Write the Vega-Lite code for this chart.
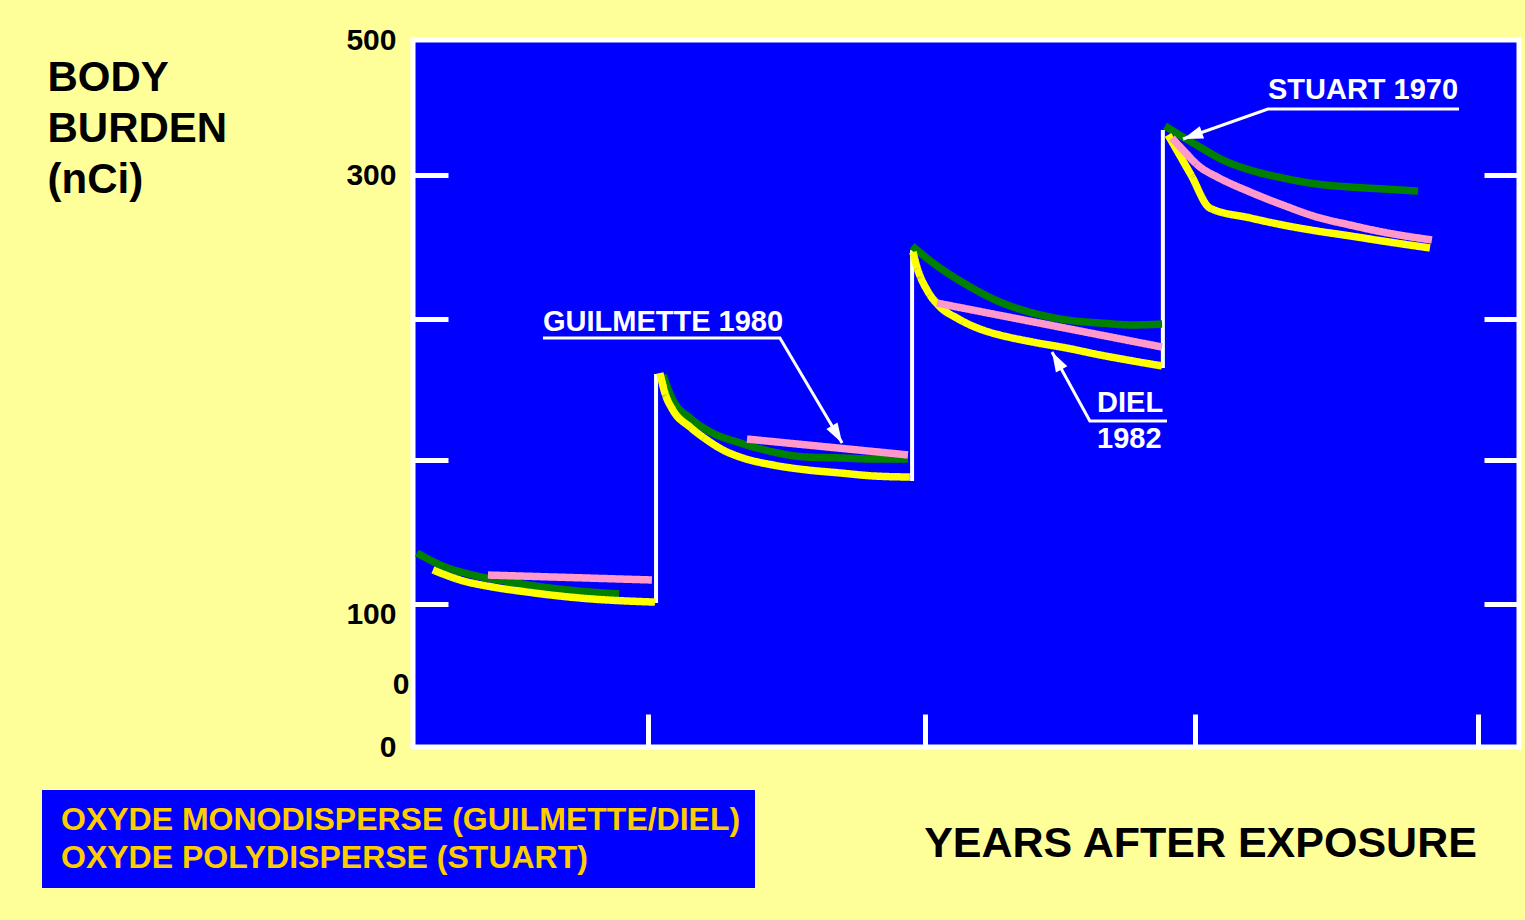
{
  "$schema": "https://vega.github.io/schema/vega-lite/v6.json",
  "width": 1106,
  "height": 707,
  "autosize": {"type": "none"},
  "padding": {"left": 413, "top": 40, "right": 6, "bottom": 173},
  "background": "#FFFF99",
  "config": {
    "font": "Liberation Sans",
    "view": {"fill": "#0000FF", "stroke": "#FFFFFF", "strokeWidth": 5}
  },
  "datasets": {
    "curves": [
      {"study": "STUART", "oxyde": "OXYDE POLYDISPERSE (STUART)", "seg": "S1", "x": 0.164, "y": 123.8},
      {"study": "STUART", "oxyde": "OXYDE POLYDISPERSE (STUART)", "seg": "S1", "x": 0.258, "y": 117.7},
      {"study": "STUART", "oxyde": "OXYDE POLYDISPERSE (STUART)", "seg": "S1", "x": 0.381, "y": 113.1},
      {"study": "STUART", "oxyde": "OXYDE POLYDISPERSE (STUART)", "seg": "S1", "x": 0.501, "y": 110.3},
      {"study": "STUART", "oxyde": "OXYDE POLYDISPERSE (STUART)", "seg": "S1", "x": 0.620, "y": 107.9},
      {"study": "STUART", "oxyde": "OXYDE POLYDISPERSE (STUART)", "seg": "S1", "x": 0.743, "y": 106.1},
      {"study": "STUART", "oxyde": "OXYDE POLYDISPERSE (STUART)", "seg": "S1", "x": 0.895, "y": 104.7},
      {"study": "STUART", "oxyde": "OXYDE POLYDISPERSE (STUART)", "seg": "S2", "x": 1.054, "y": 206.8},
      {"study": "STUART", "oxyde": "OXYDE POLYDISPERSE (STUART)", "seg": "S2", "x": 1.090, "y": 195.1},
      {"study": "STUART", "oxyde": "OXYDE POLYDISPERSE (STUART)", "seg": "S2", "x": 1.152, "y": 186.7},
      {"study": "STUART", "oxyde": "OXYDE POLYDISPERSE (STUART)", "seg": "S2", "x": 1.213, "y": 181.1},
      {"study": "STUART", "oxyde": "OXYDE POLYDISPERSE (STUART)", "seg": "S2", "x": 1.333, "y": 175.1},
      {"study": "STUART", "oxyde": "OXYDE POLYDISPERSE (STUART)", "seg": "S2", "x": 1.452, "y": 170.9},
      {"study": "STUART", "oxyde": "OXYDE POLYDISPERSE (STUART)", "seg": "S2", "x": 1.575, "y": 168.5},
      {"study": "STUART", "oxyde": "OXYDE POLYDISPERSE (STUART)", "seg": "S2", "x": 1.694, "y": 168.1},
      {"study": "STUART", "oxyde": "OXYDE POLYDISPERSE (STUART)", "seg": "S2", "x": 1.814, "y": 167.6},
      {"study": "STUART", "oxyde": "OXYDE POLYDISPERSE (STUART)", "seg": "S2", "x": 1.940, "y": 167.6},
      {"study": "STUART", "oxyde": "OXYDE POLYDISPERSE (STUART)", "seg": "S3", "x": 1.955, "y": 266.9},
      {"study": "STUART", "oxyde": "OXYDE POLYDISPERSE (STUART)", "seg": "S3", "x": 2.031, "y": 259.0},
      {"study": "STUART", "oxyde": "OXYDE POLYDISPERSE (STUART)", "seg": "S3", "x": 2.154, "y": 248.7},
      {"study": "STUART", "oxyde": "OXYDE POLYDISPERSE (STUART)", "seg": "S3", "x": 2.273, "y": 240.8},
      {"study": "STUART", "oxyde": "OXYDE POLYDISPERSE (STUART)", "seg": "S3", "x": 2.392, "y": 235.7},
      {"study": "STUART", "oxyde": "OXYDE POLYDISPERSE (STUART)", "seg": "S3", "x": 2.515, "y": 232.4},
      {"study": "STUART", "oxyde": "OXYDE POLYDISPERSE (STUART)", "seg": "S3", "x": 2.635, "y": 231.0},
      {"study": "STUART", "oxyde": "OXYDE POLYDISPERSE (STUART)", "seg": "S3", "x": 2.754, "y": 230.1},
      {"study": "STUART", "oxyde": "OXYDE POLYDISPERSE (STUART)", "seg": "S3", "x": 2.859, "y": 230.5},
      {"study": "STUART", "oxyde": "OXYDE POLYDISPERSE (STUART)", "seg": "S4", "x": 2.870, "y": 372.6},
      {"study": "STUART", "oxyde": "OXYDE POLYDISPERSE (STUART)", "seg": "S4", "x": 2.935, "y": 356.3},
      {"study": "STUART", "oxyde": "OXYDE POLYDISPERSE (STUART)", "seg": "S4", "x": 2.996, "y": 341.5},
      {"study": "STUART", "oxyde": "OXYDE POLYDISPERSE (STUART)", "seg": "S4", "x": 3.079, "y": 322.2},
      {"study": "STUART", "oxyde": "OXYDE POLYDISPERSE (STUART)", "seg": "S4", "x": 3.177, "y": 307.4},
      {"study": "STUART", "oxyde": "OXYDE POLYDISPERSE (STUART)", "seg": "S4", "x": 3.296, "y": 298.6},
      {"study": "STUART", "oxyde": "OXYDE POLYDISPERSE (STUART)", "seg": "S4", "x": 3.419, "y": 295.8},
      {"study": "STUART", "oxyde": "OXYDE POLYDISPERSE (STUART)", "seg": "S4", "x": 3.539, "y": 294.4},
      {"study": "STUART", "oxyde": "OXYDE POLYDISPERSE (STUART)", "seg": "S4", "x": 3.658, "y": 293.5},
      {"study": "STUART", "oxyde": "OXYDE POLYDISPERSE (STUART)", "seg": "S4", "x": 3.785, "y": 292.5},
      {"study": "DIEL", "oxyde": "OXYDE MONODISPERSE (GUILMETTE/DIEL)", "seg": "D1", "x": 0.222, "y": 115.9},
      {"study": "DIEL", "oxyde": "OXYDE MONODISPERSE (GUILMETTE/DIEL)", "seg": "D1", "x": 0.320, "y": 111.2},
      {"study": "DIEL", "oxyde": "OXYDE MONODISPERSE (GUILMETTE/DIEL)", "seg": "D1", "x": 0.439, "y": 107.9},
      {"study": "DIEL", "oxyde": "OXYDE MONODISPERSE (GUILMETTE/DIEL)", "seg": "D1", "x": 0.562, "y": 105.6},
      {"study": "DIEL", "oxyde": "OXYDE MONODISPERSE (GUILMETTE/DIEL)", "seg": "D1", "x": 0.682, "y": 103.7},
      {"study": "DIEL", "oxyde": "OXYDE MONODISPERSE (GUILMETTE/DIEL)", "seg": "D1", "x": 0.801, "y": 102.3},
      {"study": "DIEL", "oxyde": "OXYDE MONODISPERSE (GUILMETTE/DIEL)", "seg": "D1", "x": 0.924, "y": 101.4},
      {"study": "DIEL", "oxyde": "OXYDE MONODISPERSE (GUILMETTE/DIEL)", "seg": "D1", "x": 1.025, "y": 100.9},
      {"study": "DIEL", "oxyde": "OXYDE MONODISPERSE (GUILMETTE/DIEL)", "seg": "D2", "x": 1.043, "y": 207.7},
      {"study": "DIEL", "oxyde": "OXYDE MONODISPERSE (GUILMETTE/DIEL)", "seg": "D2", "x": 1.061, "y": 198.4},
      {"study": "DIEL", "oxyde": "OXYDE MONODISPERSE (GUILMETTE/DIEL)", "seg": "D2", "x": 1.090, "y": 190.4},
      {"study": "DIEL", "oxyde": "OXYDE MONODISPERSE (GUILMETTE/DIEL)", "seg": "D2", "x": 1.152, "y": 182.5},
      {"study": "DIEL", "oxyde": "OXYDE MONODISPERSE (GUILMETTE/DIEL)", "seg": "D2", "x": 1.213, "y": 176.5},
      {"study": "DIEL", "oxyde": "OXYDE MONODISPERSE (GUILMETTE/DIEL)", "seg": "D2", "x": 1.271, "y": 171.8},
      {"study": "DIEL", "oxyde": "OXYDE MONODISPERSE (GUILMETTE/DIEL)", "seg": "D2", "x": 1.333, "y": 168.5},
      {"study": "DIEL", "oxyde": "OXYDE MONODISPERSE (GUILMETTE/DIEL)", "seg": "D2", "x": 1.452, "y": 164.8},
      {"study": "DIEL", "oxyde": "OXYDE MONODISPERSE (GUILMETTE/DIEL)", "seg": "D2", "x": 1.575, "y": 162.5},
      {"study": "DIEL", "oxyde": "OXYDE MONODISPERSE (GUILMETTE/DIEL)", "seg": "D2", "x": 1.694, "y": 161.1},
      {"study": "DIEL", "oxyde": "OXYDE MONODISPERSE (GUILMETTE/DIEL)", "seg": "D2", "x": 1.814, "y": 159.7},
      {"study": "DIEL", "oxyde": "OXYDE MONODISPERSE (GUILMETTE/DIEL)", "seg": "D2", "x": 1.947, "y": 159.2},
      {"study": "DIEL", "oxyde": "OXYDE MONODISPERSE (GUILMETTE/DIEL)", "seg": "D3", "x": 1.958, "y": 264.1},
      {"study": "DIEL", "oxyde": "OXYDE MONODISPERSE (GUILMETTE/DIEL)", "seg": "D3", "x": 1.976, "y": 255.7},
      {"study": "DIEL", "oxyde": "OXYDE MONODISPERSE (GUILMETTE/DIEL)", "seg": "D3", "x": 2.009, "y": 246.4},
      {"study": "DIEL", "oxyde": "OXYDE MONODISPERSE (GUILMETTE/DIEL)", "seg": "D3", "x": 2.056, "y": 238.5},
      {"study": "DIEL", "oxyde": "OXYDE MONODISPERSE (GUILMETTE/DIEL)", "seg": "D3", "x": 2.117, "y": 233.3},
      {"study": "DIEL", "oxyde": "OXYDE MONODISPERSE (GUILMETTE/DIEL)", "seg": "D3", "x": 2.211, "y": 227.7},
      {"study": "DIEL", "oxyde": "OXYDE MONODISPERSE (GUILMETTE/DIEL)", "seg": "D3", "x": 2.273, "y": 225.4},
      {"study": "DIEL", "oxyde": "OXYDE MONODISPERSE (GUILMETTE/DIEL)", "seg": "D3", "x": 2.392, "y": 222.1},
      {"study": "DIEL", "oxyde": "OXYDE MONODISPERSE (GUILMETTE/DIEL)", "seg": "D3", "x": 2.515, "y": 219.3},
      {"study": "DIEL", "oxyde": "OXYDE MONODISPERSE (GUILMETTE/DIEL)", "seg": "D3", "x": 2.635, "y": 216.1},
      {"study": "DIEL", "oxyde": "OXYDE MONODISPERSE (GUILMETTE/DIEL)", "seg": "D3", "x": 2.754, "y": 213.3},
      {"study": "DIEL", "oxyde": "OXYDE MONODISPERSE (GUILMETTE/DIEL)", "seg": "D3", "x": 2.859, "y": 211.0},
      {"study": "DIEL", "oxyde": "OXYDE MONODISPERSE (GUILMETTE/DIEL)", "seg": "D4", "x": 2.881, "y": 359.3},
      {"study": "DIEL", "oxyde": "OXYDE MONODISPERSE (GUILMETTE/DIEL)", "seg": "D4", "x": 2.964, "y": 300.0},
      {"study": "DIEL", "oxyde": "OXYDE MONODISPERSE (GUILMETTE/DIEL)", "seg": "D4", "x": 3.032, "y": 284.6},
      {"study": "DIEL", "oxyde": "OXYDE MONODISPERSE (GUILMETTE/DIEL)", "seg": "D4", "x": 3.177, "y": 280.0},
      {"study": "DIEL", "oxyde": "OXYDE MONODISPERSE (GUILMETTE/DIEL)", "seg": "D4", "x": 3.296, "y": 276.7},
      {"study": "DIEL", "oxyde": "OXYDE MONODISPERSE (GUILMETTE/DIEL)", "seg": "D4", "x": 3.419, "y": 273.9},
      {"study": "DIEL", "oxyde": "OXYDE MONODISPERSE (GUILMETTE/DIEL)", "seg": "D4", "x": 3.539, "y": 271.6},
      {"study": "DIEL", "oxyde": "OXYDE MONODISPERSE (GUILMETTE/DIEL)", "seg": "D4", "x": 3.658, "y": 269.2},
      {"study": "DIEL", "oxyde": "OXYDE MONODISPERSE (GUILMETTE/DIEL)", "seg": "D4", "x": 3.828, "y": 266.0},
      {"study": "GUILMETTE", "oxyde": "OXYDE MONODISPERSE (GUILMETTE/DIEL)", "seg": "G1", "x": 0.421, "y": 113.5},
      {"study": "GUILMETTE", "oxyde": "OXYDE MONODISPERSE (GUILMETTE/DIEL)", "seg": "G1", "x": 1.014, "y": 111.2},
      {"study": "GUILMETTE", "oxyde": "OXYDE MONODISPERSE (GUILMETTE/DIEL)", "seg": "G2", "x": 1.358, "y": 176.9},
      {"study": "GUILMETTE", "oxyde": "OXYDE MONODISPERSE (GUILMETTE/DIEL)", "seg": "G2", "x": 1.940, "y": 169.5},
      {"study": "GUILMETTE", "oxyde": "OXYDE MONODISPERSE (GUILMETTE/DIEL)", "seg": "G3", "x": 2.045, "y": 240.3},
      {"study": "GUILMETTE", "oxyde": "OXYDE MONODISPERSE (GUILMETTE/DIEL)", "seg": "G3", "x": 2.859, "y": 219.8},
      {"study": "GUILMETTE", "oxyde": "OXYDE MONODISPERSE (GUILMETTE/DIEL)", "seg": "G4", "x": 2.895, "y": 354.8},
      {"study": "GUILMETTE", "oxyde": "OXYDE MONODISPERSE (GUILMETTE/DIEL)", "seg": "G4", "x": 2.935, "y": 337.0},
      {"study": "GUILMETTE", "oxyde": "OXYDE MONODISPERSE (GUILMETTE/DIEL)", "seg": "G4", "x": 2.996, "y": 311.9},
      {"study": "GUILMETTE", "oxyde": "OXYDE MONODISPERSE (GUILMETTE/DIEL)", "seg": "G4", "x": 3.058, "y": 299.1},
      {"study": "GUILMETTE", "oxyde": "OXYDE MONODISPERSE (GUILMETTE/DIEL)", "seg": "G4", "x": 3.177, "y": 292.1},
      {"study": "GUILMETTE", "oxyde": "OXYDE MONODISPERSE (GUILMETTE/DIEL)", "seg": "G4", "x": 3.296, "y": 286.0},
      {"study": "GUILMETTE", "oxyde": "OXYDE MONODISPERSE (GUILMETTE/DIEL)", "seg": "G4", "x": 3.419, "y": 280.4},
      {"study": "GUILMETTE", "oxyde": "OXYDE MONODISPERSE (GUILMETTE/DIEL)", "seg": "G4", "x": 3.539, "y": 276.7},
      {"study": "GUILMETTE", "oxyde": "OXYDE MONODISPERSE (GUILMETTE/DIEL)", "seg": "G4", "x": 3.658, "y": 273.4},
      {"study": "GUILMETTE", "oxyde": "OXYDE MONODISPERSE (GUILMETTE/DIEL)", "seg": "G4", "x": 3.835, "y": 269.7}
    ],
    "jumps": [
      {"jump": "J1", "x": 1.029, "y": 100.5},
      {"jump": "J1", "x": 1.029, "y": 207.2},
      {"jump": "J2", "x": 1.955, "y": 157.3},
      {"jump": "J2", "x": 1.955, "y": 265.0},
      {"jump": "J3", "x": 2.862, "y": 210.0},
      {"jump": "J3", "x": 2.862, "y": 366.7}
    ],
    "notes": [
      {"ann": "GUILMETTE", "part": "end", "k": 1, "x": 0.620, "y": 224.0},
      {"ann": "GUILMETTE", "part": "corner", "k": 2, "x": 1.477, "y": 224.0},
      {"ann": "GUILMETTE", "part": "tip", "k": 3, "x": 1.702, "y": 175.1},
      {"ann": "STUART", "part": "end", "k": 1, "x": 3.933, "y": 397.8},
      {"ann": "STUART", "part": "corner", "k": 2, "x": 3.242, "y": 397.8},
      {"ann": "STUART", "part": "tip", "k": 3, "x": 2.935, "y": 353.3},
      {"ann": "DIEL", "part": "end", "k": 1, "x": 2.877, "y": 185.3},
      {"ann": "DIEL", "part": "corner", "k": 2, "x": 2.598, "y": 185.3},
      {"ann": "DIEL", "part": "tip", "k": 3, "x": 2.461, "y": 217.5}
    ],
    "labels": [
      {"text": "GUILMETTE 1980", "x": 0.620, "y": 231.5},
      {"text": "STUART 1970", "x": 3.242, "y": 425.2},
      {"text": "DIEL", "x": 2.624, "y": 193.5},
      {"text": "1982", "x": 2.624, "y": 176.9}
    ]
  },
  "encoding": {
    "x": {
      "field": "x",
      "type": "quantitative",
      "scale": {"domain": [0.15, 4.15], "nice": false, "zero": false},
      "axis": {
        "values": [1, 2, 2.98, 4],
        "labels": false,
        "domain": false,
        "grid": false,
        "ticks": true,
        "tickSize": -33,
        "tickColor": "#FFFFFF",
        "tickWidth": 5,
        "title": "YEARS AFTER EXPOSURE",
        "titleX": 787,
        "titleY": 96,
        "titleAlign": "center",
        "titleBaseline": "middle",
        "titleFont": "Liberation Sans",
        "titleFontSize": 43,
        "titleFontWeight": "bold",
        "titleColor": "#000000"
      }
    },
    "y": {
      "field": "y",
      "type": "quantitative",
      "scale": {"domain": [0, 100, 300, 500], "range": [707, 564, 135, 0], "nice": false, "zero": false},
      "axis": {
        "values": [0, 44, 93, 100, 167, 233, 300, 500],
        "labelExpr": "datum.value == 93 ? '100' : (datum.value == 44 ? '0' : ((datum.value == 0 || datum.value == 300 || datum.value == 500) ? datum.label : ''))",
        "labelFont": "Liberation Sans",
        "labelFontSize": 30,
        "labelFontWeight": "bold",
        "labelColor": "#000000",
        "labelPadding": {"condition": {"test": "datum.value == 44", "value": 4}, "value": 17},
        "labelOverlap": false,
        "ticks": false,
        "tickSize": 0,
        "domain": false,
        "grid": true,
        "gridColor": "#FFFFFF",
        "gridWidth": 5,
        "gridDash": [35, 1036, 35],
        "gridOpacity": {"condition": {"test": "datum.value == 100 || datum.value == 167 || datum.value == 233 || datum.value == 300", "value": 1}, "value": 0},
        "title": ["BODY", "BURDEN", "(nCi)"],
        "titleAngle": 0,
        "titleAlign": "left",
        "titleBaseline": "alphabetic",
        "titleX": -366,
        "titleY": 50,
        "titleFont": "Liberation Sans",
        "titleFontSize": 42,
        "titleFontWeight": "bold",
        "titleLineHeight": 51,
        "titleColor": "#000000"
      }
    }
  },
  "layer": [
    {
      "data": {"name": "jumps"},
      "mark": {"type": "line", "color": "#FFFFFF", "strokeWidth": 4},
      "encoding": {"detail": {"field": "jump"}}
    },
    {
      "data": {"name": "curves"},
      "mark": {"type": "line", "strokeWidth": 7.5, "strokeJoin": "round", "interpolate": "monotone"},
      "encoding": {
        "detail": {"field": "seg"},
        "color": {
          "field": "study",
          "type": "nominal",
          "scale": {"domain": ["STUART", "DIEL", "GUILMETTE"], "range": ["#008000", "#FFFF00", "#FF99CC"]},
          "legend": null
        },
        "strokeDash": {
          "field": "oxyde",
          "type": "nominal",
          "scale": {
            "domain": ["OXYDE MONODISPERSE (GUILMETTE/DIEL)", "OXYDE POLYDISPERSE (STUART)"],
            "range": [[1, 0], [1, 0]]
          },
          "legend": {
            "orient": "none",
            "legendX": -371,
            "legendY": 750,
            "title": null,
            "fillColor": "#0000FF",
            "padding": 14,
            "labelFont": "Liberation Sans",
            "labelFontSize": 32,
            "labelFontWeight": "bold",
            "labelColor": "#FFCC00",
            "labelLimit": 0,
            "labelOffset": -27,
            "rowPadding": 6,
            "symbolOpacity": 0,
            "symbolSize": 0,
            "symbolStrokeWidth": 0
          }
        }
      }
    },
    {
      "data": {"name": "notes"},
      "mark": {"type": "line", "color": "#FFFFFF", "strokeWidth": 3},
      "encoding": {"detail": {"field": "ann"}, "order": {"field": "k"}}
    },
    {
      "data": {"name": "notes"},
      "transform": [{"filter": "datum.part == 'tip' && datum.ann == 'GUILMETTE'"}],
      "mark": {"type": "point", "shape": "M0,0L-0.65,2L0.65,2Z", "filled": true, "color": "#FFFFFF", "opacity": 1, "size": 400, "angle": 149.4}
    },
    {
      "data": {"name": "notes"},
      "transform": [{"filter": "datum.part == 'tip' && datum.ann == 'STUART'"}],
      "mark": {"type": "point", "shape": "M0,0L-0.65,2L0.65,2Z", "filled": true, "color": "#FFFFFF", "opacity": 1, "size": 400, "angle": 250.6}
    },
    {
      "data": {"name": "notes"},
      "transform": [{"filter": "datum.part == 'tip' && datum.ann == 'DIEL'"}],
      "mark": {"type": "point", "shape": "M0,0L-0.65,2L0.65,2Z", "filled": true, "color": "#FFFFFF", "opacity": 1, "size": 400, "angle": 331.2}
    },
    {
      "data": {"name": "labels"},
      "mark": {"type": "text", "align": "left", "baseline": "middle", "font": "Liberation Sans", "fontSize": 29, "fontWeight": "bold", "color": "#FFFFFF"},
      "encoding": {"text": {"field": "text"}}
    }
  ]
}
